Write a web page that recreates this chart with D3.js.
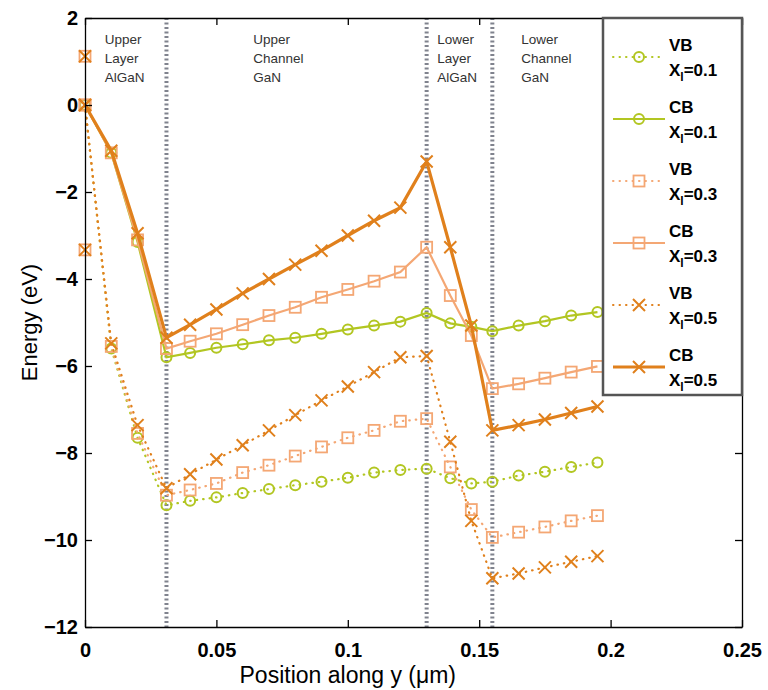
<!DOCTYPE html>
<html>
<head>
<meta charset="utf-8">
<script src="https://cdn.jsdelivr.net/npm/d3@7"></script>
<style>
    body { margin: 0; background: #fff; }
    svg { display: block; font-family: "Liberation Sans", Arial, sans-serif; }
    .axis text { font-weight: bold; font-size: 20px; fill: #000; }
    .axis path, .axis line { stroke: #000; stroke-width: 1.3; }
</style>
</head>
<body>
<div id="chart"></div>
<script>
    'use strict';

    // positions along y (um)
    var positions = [0, 0.01, 0.02, 0.031, 0.04, 0.05, 0.06, 0.07, 0.08, 0.09, 0.10, 0.11, 0.12, 0.13,
        0.139, 0.147, 0.155, 0.165, 0.175, 0.185, 0.195];

    var vb01 = [0, -5.6, -7.65, -9.2, -9.1, -9.02, -8.92, -8.83, -8.74, -8.66, -8.57, -8.45, -8.39, -8.36,
        -8.58, -8.7, -8.66, -8.52, -8.43, -8.32, -8.22];
    var cb01 = [0, -1.1, -3.15, -5.8, -5.7, -5.58, -5.5, -5.41, -5.35, -5.26, -5.16, -5.07, -4.98, -4.78,
        -5.02, -5.1, -5.2, -5.07, -4.97, -4.84, -4.76];
    var vb03 = [0, -5.55, -7.55, -8.97, -8.85, -8.7, -8.45, -8.28, -8.07, -7.86, -7.65, -7.48, -7.27, -7.21,
        -8.32, -9.3, -9.94, -9.82, -9.7, -9.56, -9.44];
    var cb03 = [0, -1.1, -3.1, -5.6, -5.43, -5.26, -5.05, -4.84, -4.65, -4.42, -4.24, -4.05, -3.84, -3.27,
        -4.38, -5.3, -6.52, -6.41, -6.28, -6.14, -6.01];
    var vb05 = [0, -5.48, -7.36, -8.81, -8.49, -8.15, -7.82, -7.48, -7.13, -6.79, -6.47, -6.14, -5.8, -5.77,
        -7.74, -9.56, -10.88, -10.77, -10.63, -10.5, -10.37];
    var cb05 = [0, -1.05, -2.95, -5.35, -5.05, -4.7, -4.33, -4.0, -3.67, -3.35, -3.0, -2.66, -2.36, -1.3,
        -3.27, -5.07, -7.48, -7.36, -7.23, -7.08, -6.93];

    // stray markers sitting on the y axis
    var strayValues = [1.12, -3.33];

    var seriesNames = ['VB', 'CB', 'VB', 'CB', 'VB', 'CB'];
    var seriesFractions = ['0.1', '0.1', '0.3', '0.3', '0.5', '0.5'];

    var boundaries = [0.031, 0.13, 0.155];
    var regionNames = [
        ['Upper', 'Layer', 'AlGaN'],
        ['Upper', 'Channel', 'GaN'],
        ['Lower', 'Layer', 'AlGaN'],
        ['Lower', 'Channel', 'GaN']
    ];
    var regionStarts = [0.0075, 0.064, 0.134, 0.166];

    var xTicks = [0, 0.05, 0.1, 0.15, 0.2, 0.25];
    var yTicks = [-12, -10, -8, -6, -4, -2, 0, 2];

    var W = 768, H = 690;
    var margin = { left: 85, top: 18, right: 26, bottom: 63 };
    var w = W - margin.left - margin.right,
        h = H - margin.top - margin.bottom;

    var green = '#b2c622', lightOrange = '#f4a774', darkOrange = '#e0801c';

    var series = [
        { values: vb01, color: green, dotted: true, marker: 'circle', width: 2.2 },
        { values: cb01, color: green, dotted: false, marker: 'circle', width: 2.2 },
        { values: vb03, color: lightOrange, dotted: true, marker: 'square', width: 2.2 },
        { values: cb03, color: lightOrange, dotted: false, marker: 'square', width: 2.2 },
        { values: vb05, color: darkOrange, dotted: true, marker: 'cross', width: 2.2 },
        { values: cb05, color: darkOrange, dotted: false, marker: 'cross', width: 3.2 }
    ];

    var svg = d3.select('#chart')
        .append('svg')
        .attr('width', W)
        .attr('height', H);

    var g = svg.append('g')
        .attr('transform', 'translate(' + margin.left + ',' + margin.top + ')');

    var x = d3.scaleLinear().domain([0, 0.25]).range([0, w]),
        y = d3.scaleLinear().domain([-12, 2]).range([h, 0]);

    // boundary lines between layers
    g.selectAll('.boundary')
        .data(boundaries)
        .enter().append('line')
        .attr('class', 'boundary')
        .attr('x1', function (d) { return x(d); })
        .attr('x2', function (d) { return x(d); })
        .attr('y1', 0)
        .attr('y2', h)
        .attr('stroke', '#80838e')
        .attr('stroke-width', 4)
        .attr('stroke-dasharray', '2,2.5');

    // region labels
    regionNames.forEach(function (lines, i) {
        var t = g.append('text')
            .attr('x', x(regionStarts[i]))
            .attr('y', 26)
            .style('font-size', '13.5px')
            .style('fill', '#333');
        lines.forEach(function (s, j) {
            t.append('tspan')
                .attr('x', x(regionStarts[i]))
                .attr('dy', j === 0 ? 0 : 19)
                .text(s);
        });
    });

    function drawMarker(sel, type, color) {
        if (type === 'circle') {
            sel.append('circle')
                .attr('r', 5)
                .attr('fill', 'none')
                .attr('stroke', color)
                .attr('stroke-width', 2);
        } else if (type === 'square') {
            sel.append('rect')
                .attr('x', -5.5).attr('y', -5.5)
                .attr('width', 11).attr('height', 11)
                .attr('fill', 'none')
                .attr('stroke', color)
                .attr('stroke-width', 1.8);
        } else {
            sel.append('path')
                .attr('d', 'M-6,-6L6,6M-6,6L6,-6')
                .attr('stroke', color)
                .attr('stroke-width', 2);
        }
    }

    var line = d3.line()
        .x(function (d, i) { return x(positions[i]); })
        .y(function (d) { return y(d); });

    series.forEach(function (s) {
        var sg = g.append('g').attr('class', 'series');

        sg.append('path')
            .attr('d', line(s.values))
            .attr('fill', 'none')
            .attr('stroke', s.color)
            .attr('stroke-width', s.width)
            .attr('stroke-linecap', s.dotted ? 'round' : 'butt')
            .attr('stroke-dasharray', s.dotted ? '0.5,6' : null);

        sg.selectAll('.pt')
            .data(s.values)
            .enter().append('g')
            .attr('class', 'pt')
            .attr('transform', function (d, i) { return 'translate(' + x(positions[i]) + ',' + y(d) + ')'; })
            .each(function () { drawMarker(d3.select(this), s.marker, s.color); });
    });

    // stray markers on the axis
    g.selectAll('.stray')
        .data(strayValues)
        .enter().append('g')
        .attr('class', 'stray')
        .attr('transform', function (d) { return 'translate(' + x(0) + ',' + y(d) + ')'; })
        .each(function () {
            drawMarker(d3.select(this), 'square', lightOrange);
            drawMarker(d3.select(this), 'cross', darkOrange);
        });

    // axes, MATLAB style: ticks inside, box on
    g.append('g')
        .attr('class', 'axis axis--x')
        .attr('transform', 'translate(0,' + h + ')')
        .call(d3.axisBottom(x).tickValues(xTicks).tickSizeInner(-7).tickSizeOuter(0).tickPadding(12)
            .tickFormat(function (d) { return d3.format('')(+d.toFixed(2)); }));

    g.append('g')
        .attr('class', 'axis axis--y')
        .call(d3.axisLeft(y).tickValues(yTicks).tickSizeInner(-7).tickSizeOuter(0).tickPadding(7));

    g.append('g')
        .attr('class', 'axis')
        .call(d3.axisTop(x).tickValues(xTicks).tickSizeInner(-7).tickSizeOuter(0).tickFormat(''));

    g.append('g')
        .attr('class', 'axis')
        .attr('transform', 'translate(' + w + ',0)')
        .call(d3.axisRight(y).tickValues(yTicks).tickSizeInner(-7).tickSizeOuter(0).tickFormat(''));

    g.selectAll('.axis--x text').attr('dy', '0.9em');

    // axis titles
    svg.append('text')
        .attr('x', margin.left + x(0.1))
        .attr('y', 683)
        .attr('text-anchor', 'middle')
        .style('font-size', '23px')
        .text('Position along y (\u03bcm)');

    svg.append('text')
        .attr('transform', 'translate(37,' + (margin.top + y(-5)) + ') rotate(-90)')
        .attr('text-anchor', 'middle')
        .style('font-size', '22px')
        .text('Energy (eV)');

    // legend
    var legend = g.append('g')
        .attr('transform', 'translate(' + (w - 139) + ',0)');

    legend.append('rect')
        .attr('x', 0).attr('y', 0)
        .attr('width', 139).attr('height', 377)
        .attr('fill', '#fff')
        .attr('stroke', '#555')
        .attr('stroke-width', 2.5);

    series.forEach(function (s, i) {
        var ly = 39 + i * 62;
        var item = legend.append('g')
            .attr('transform', 'translate(0,' + ly + ')');

        item.append('line')
            .attr('x1', 10).attr('x2', 62)
            .attr('y1', 0).attr('y2', 0)
            .attr('stroke', s.color)
            .attr('stroke-width', s.dotted ? 2 : s.width)
            .attr('stroke-linecap', s.dotted ? 'round' : 'butt')
            .attr('stroke-dasharray', s.dotted ? '0.5,6' : null);

        var m = item.append('g').attr('transform', 'translate(36,0)');
        drawMarker(m, s.marker, s.color);

        var t = item.append('text')
            .attr('x', 66)
            .style('font-size', '17px')
            .style('font-weight', 'bold');
        t.append('tspan').attr('x', 66).attr('dy', -6).text(seriesNames[i]);
        var t2 = item.append('text')
            .attr('x', 66)
            .attr('y', 19)
            .style('font-size', '17px')
            .style('font-weight', 'bold');
        t2.append('tspan').text('X');
        t2.append('tspan').attr('dy', 5).style('font-size', '12px').text('l');
        t2.append('tspan').attr('dy', -5).text('=' + seriesFractions[i]);
    });
</script>
</body>
</html>
